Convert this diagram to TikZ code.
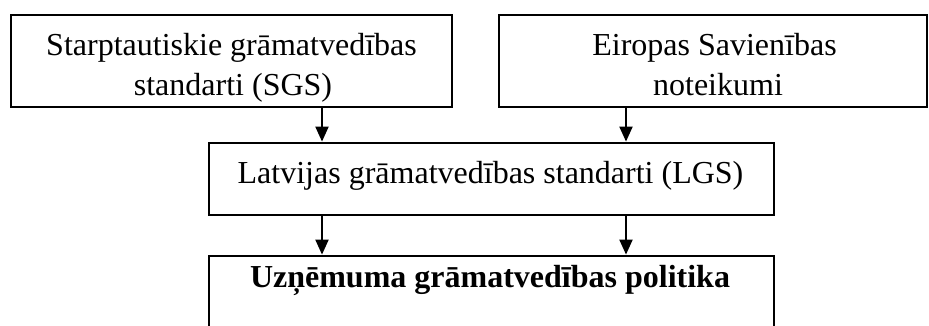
\documentclass[tikz,border=0pt]{standalone}
\usepackage{fontspec}
\setmainfont{Liberation Serif}
\usetikzlibrary{arrows.meta}
\begin{document}
\begin{tikzpicture}[x=1pt,y=-1pt,
  box/.style={draw, line width=2.8pt, inner sep=0pt},
  txt/.style={inner sep=0pt, anchor=base, font=\fontsize{32}{38}\selectfont},
  arr/.style={line width=2pt, -{Triangle[length=15pt,width=13pt]}}]
\useasboundingbox (0,0) rectangle (929,325);
\clip (0,0) rectangle (929,325);
% boxes
\node[box, minimum width=441pt, minimum height=92pt] (sgs) at (231.5,61) {};
\node[box, minimum width=428pt, minimum height=92pt] (es) at (713,61) {};
\node[box, minimum width=565pt, minimum height=72pt] (lgs) at (491.5,179) {};
\node[box, minimum width=565pt, minimum height=89pt] (pol) at (491.5,300.5) {};
% texts
\node[txt] (sgs1) at (231.5,55) {Starptautiskie grāmatvedības};
\node[txt] (sgs2) at (233,95) {standarti (SGS)};
\node[txt] (es1) at (714.5,55) {Eiropas Savienības};
\node[txt] (es2) at (718,95) {noteikumi};
\node[txt] (lgs1) at (490.5,183) {Latvijas grāmatvedības standarti (LGS)};
\node[txt, font=\fontsize{32}{38}\selectfont\bfseries] (pol1) at (490,287) {Uzņēmuma grāmatvedības politika};
% connectors
\coordinate (cl) at (322,0);
\coordinate (cr) at (626,0);
\draw[arr] (sgs.south -| cl) -- (lgs.north -| cl);
\draw[arr] (es.south -| cr) -- (lgs.north -| cr);
\draw[arr] (lgs.south -| cl) -- (pol.north -| cl);
\draw[arr] (lgs.south -| cr) -- (pol.north -| cr);
\end{tikzpicture}
\end{document}
